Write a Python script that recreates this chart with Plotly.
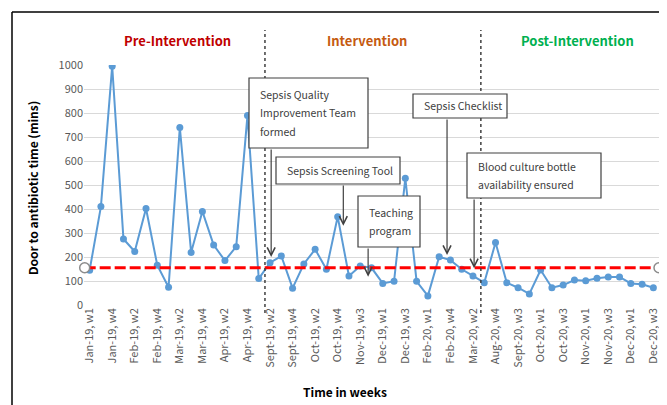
import plotly.graph_objects as go

# weekly categories (every other one is labelled on the axis)
weeks = [
    "Jan-19, w1", "Jan-19, w3", "Jan-19, w4", "Feb-19, w1", "Feb-19, w2", "Feb-19, w3",
    "Feb-19, w4", "Mar-19, w1", "Mar-19, w2", "Mar-19, w3", "Mar-19, w4", "Apr-19, w1",
    "Apr-19, w2", "Apr-19, w3", "Apr-19, w4", "Sept-19, w1", "Sept-19, w2", "Sept-19, w3",
    "Sept-19, w4", "Oct-19, w1", "Oct-19, w2", "Oct-19, w3", "Oct-19, w4", "Nov-19, w2",
    "Nov-19, w3", "Nov-19, w4", "Dec-19, w1", "Dec-19, w2", "Dec-19, w3", "Jan-20, w2",
    "Feb-20, w1", "Feb-20, w3", "Feb-20, w4", "Mar-20, w1", "Mar-20, w2", "Aug-20, w3",
    "Aug-20, w4", "Sept-20, w1", "Sept-20, w3", "Sept-20, w4", "Oct-20, w1", "Oct-20, w2",
    "Oct-20, w3", "Oct-20, w4", "Nov-20, w1", "Nov-20, w2", "Nov-20, w3", "Nov-20, w4",
    "Dec-20, w1", "Dec-20, w2", "Dec-20, w3",
]
door_to_abx = [
    145, 410, 995, 275, 223, 402, 166, 74, 740, 219,
    390, 250, 185, 243, 790, 110, 176, 204, 70, 171,
    232, 149, 368, 121, 162, 155, 90, 99, 528, 99,
    38, 201, 187, 149, 121, 93, 260, 93, 72, 46,
    146, 72, 83, 104, 101, 111, 117, 117, 90, 86, 72,
]
target = 155

phase_names = ["Pre-Intervention", "Intervention", "Post-Intervention"]
phase_colors = ["#C00000", "#C55A11", "#00B050"]

# (text lines, box in screen px (x0, y0, x1, y1), target week index, arrow tip value)
events = [
    (["Sepsis Quality", "Improvement Team", "formed"], (249, 78, 368, 148), 16.1, 200),
    (["Sepsis Screening Tool"], (276, 157, 400, 184), 22.5, 330),
    (["Teaching", "program"], (358, 196, 420, 247), 24.7, 118),
    (["Sepsis Checklist"], (413, 94, 507, 118), 31.7, 208),
    (["Blood culture bottle", "availability ensured"], (467, 153, 601, 198), 34.1, 153),
]

# page body adds an 8px margin; screen coords below are shifted by it
OFF = 8
W, H = 659, 397
PX0, PX1, PY0, PY1 = 84, 659, 65, 305   # plot area on screen
L, T = PX0 - OFF, PY0 - OFF
R, B = W - (PX1 - OFF), H - (PY1 - OFF)
PW, PH = PX1 - PX0, PY1 - PY0
FONT = "Noto Sans CJK KR"
TXT = "#404040"


def px(x, y):
    return (x - PX0) / PW, (PY1 - y) / PH


fig = go.Figure()

fig.add_trace(go.Scatter(
    x=list(range(len(weeks))), y=door_to_abx,
    mode="lines+markers",
    line=dict(color="#5B9BD5", width=2),
    marker=dict(size=7, color="#5B9BD5"),
    showlegend=False,
))

fig.add_trace(go.Scatter(
    x=[-0.44, len(weeks) - 0.5], y=[target, target],
    mode="lines+markers",
    line=dict(color="#FF0000", width=3, dash="11px,4px"),
    marker=dict(size=10, color="white", line=dict(color="#8C8C8C", width=1.5)),
    cliponaxis=False,
    showlegend=False,
))

shapes = []
annotations = []

# outer frame: only top and left edges are inside the picture
fl, ft = px(12, 12)
fr, fb = px(690, 420)
for x0, y0, x1, y1 in [(fl, ft, fr, ft), (fl, ft, fl, fb)]:
    shapes.append(dict(type="line", xref="paper", yref="paper", x0=x0, y0=y0, x1=x1, y1=y1,
                       line=dict(color="black", width=1.5)))

# phase separators
for xs in [15.55, 34.7]:
    shapes.append(dict(type="line", xref="x", yref="paper", x0=xs, x1=xs,
                       y0=px(0, 313)[1], y1=px(0, 30)[1],
                       line=dict(color="#404040", width=1.5, dash="dot")))

# phase titles
for name, col, cx in zip(phase_names, phase_colors, [177, 367, 577]):
    ax_, ay_ = px(cx, 41)
    annotations.append(dict(xref="paper", yref="paper", x=ax_, y=ay_, text="<b>%s</b>" % name,
                            xanchor="center", yanchor="middle",
                            showarrow=False, font=dict(family=FONT, size=13, color=col)))

# event boxes with arrows
for lines, (bx0, by0, bx1, by1), idx, tip in events:
    p0 = px(bx0, by0)
    p1 = px(bx1, by1)
    shapes.append(dict(type="rect", xref="paper", yref="paper", x0=p0[0], y0=p1[1], x1=p1[0], y1=p0[1],
                       line=dict(color="#404040", width=1.2), fillcolor="white", layer="above"))
    n = len(lines)
    step = 18.5
    cy = (by0 + by1) / 2
    for k, ln in enumerate(lines):
        yy = cy + (k - (n - 1) / 2) * step
        tx, ty = px(bx0 + 9, yy)
        annotations.append(dict(xref="paper", yref="paper", x=tx, y=ty, text=ln, showarrow=False,
                                xanchor="left", yanchor="middle",
                                font=dict(family=FONT, size=10.5, color=TXT)))
    annotations.append(dict(x=idx, y=tip, xref="x", yref="y", axref="x", ayref="y",
                            ax=idx, ay=(PY1 - by1) / PH * 1000, text="", showarrow=True,
                            arrowhead=5, arrowsize=1.3, arrowwidth=1.2, arrowcolor=TXT))

# axis titles
tx, ty = px(32, 188)
annotations.append(dict(xref="paper", yref="paper", x=tx, y=ty, text="<b>Door to antibiotic time (mins)</b>",
                        xanchor="center", yanchor="middle",
                        textangle=-90, showarrow=False, font=dict(family=FONT, size=12, color="black")))
tx, ty = px(345, 391)
annotations.append(dict(xref="paper", yref="paper", x=tx, y=ty, text="<b>Time in weeks</b>",
                        xanchor="center", yanchor="middle",
                        showarrow=False, font=dict(family=FONT, size=12, color="black")))

fig.update_layout(
    width=W, height=H,
    margin=dict(l=L, r=R, t=T, b=B),
    plot_bgcolor="white", paper_bgcolor="white",
    font=dict(family=FONT, size=11, color="#595959"),
    shapes=shapes, annotations=annotations,
    xaxis=dict(
        range=[-0.5, len(weeks) - 0.5],
        tickvals=list(range(0, len(weeks), 2)),
        ticktext=weeks[::2],
        tickangle=-90, showgrid=False, zeroline=False, showline=False,
        ticks="", tickfont=dict(size=11, color="#595959"), automargin=False,
    ),
    yaxis=dict(
        range=[0, 1000], dtick=100, showgrid=True, gridcolor="#D9D9D9", gridwidth=1,
        zeroline=False, showline=False, ticks="", tickfont=dict(size=11, color="#595959"),
        automargin=False,
    ),
)

fig.write_html("out.html")
